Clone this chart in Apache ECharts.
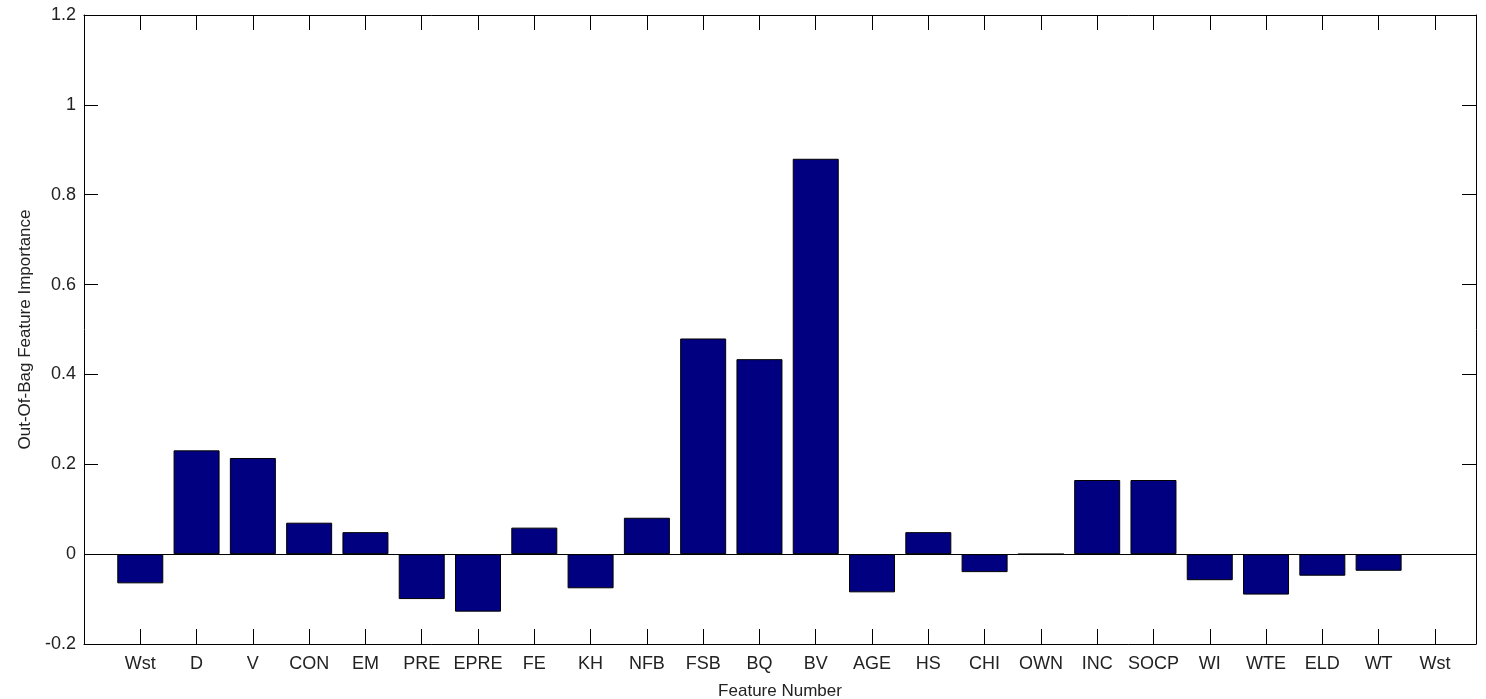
<!DOCTYPE html>
<html>
<head>
<meta charset="utf-8">
<script src="https://cdn.jsdelivr.net/npm/echarts@6/dist/echarts.min.js"></script>
<style>
  html, body { margin: 0; padding: 0; background: #fff; }
  #chart { width: 1486px; height: 699px; }
</style>
</head>
<body>
<div id="chart"></div>
<script>
// feature names, one per tick (1..24)
const features = ['Wst', 'D', 'V', 'CON', 'EM', 'PRE', 'EPRE', 'FE', 'KH', 'NFB', 'FSB', 'BQ',
  'BV', 'AGE', 'HS', 'CHI', 'OWN', 'INC', 'SOCP', 'WI', 'WTE', 'ELD', 'WT', 'Wst'];
// out-of-bag importance, last tick has no bar
const importance = [-0.065, 0.231, 0.214, 0.070, 0.049, -0.100, -0.128, 0.059, -0.076, 0.081,
  0.480, 0.434, 0.880, -0.085, 0.049, -0.040, 0, 0.165, 0.165, -0.058, -0.090, -0.048, -0.037, null];
const yTicks = { min: -0.2, max: 1.2, step: 0.2 };

const font = 'Liberation Sans, Arial, sans-serif';
const black = '#000';

const chart = echarts.init(document.getElementById('chart'));

const barData = [];
importance.forEach((v, i) => {
  if (v !== null) barData.push([i + 1, v]);
});

const xCommon = {
  type: 'value',
  min: 0,
  max: 24.73,
  interval: 1,
  splitLine: { show: false },
  axisLine: { onZero: false, lineStyle: { color: black, width: 1 } },
  axisTick: { inside: true, length: 15, lineStyle: { color: black } }
};
const yCommon = {
  type: 'value',
  min: yTicks.min,
  max: yTicks.max,
  interval: yTicks.step,
  splitLine: { show: false },
  axisLine: { show: true, onZero: false, lineStyle: { color: black, width: 1 } },
  axisTick: { show: true, inside: true, length: 14, lineStyle: { color: black } }
};

chart.setOption({
  animation: false,
  backgroundColor: '#fff',
  grid: { left: 84, right: 10, top: 15, bottom: 55, outerBoundsMode: 'none', containLabel: false },
  xAxis: [
    Object.assign({}, xCommon, {
      position: 'bottom',
      name: 'Feature Number',
      nameLocation: 'middle',
      nameGap: 39,
      nameTextStyle: { fontFamily: font, fontSize: 17, color: '#222' },
      axisLabel: {
        margin: 11,
        fontFamily: font,
        fontSize: 18,
        color: '#222',
        formatter: v => (Number.isInteger(v) && v >= 1 && v <= features.length) ? features[v - 1] : ''
      }
    }),
    Object.assign({}, xCommon, {
      position: 'top',
      axisLabel: { show: false }
    })
  ],
  yAxis: [
    Object.assign({}, yCommon, {
      position: 'left',
      name: 'Out-Of-Bag Feature Importance',
      nameLocation: 'middle',
      nameGap: 49,
      nameTextStyle: { fontFamily: font, fontSize: 17, color: '#222' },
      axisLabel: {
        margin: 8,
        fontFamily: font,
        fontSize: 18,
        color: '#222',
        formatter: v => String(Math.round(v * 10) / 10)
      }
    }),
    Object.assign({}, yCommon, {
      position: 'right',
      axisLabel: { show: false }
    })
  ],
  series: [
    {
      type: 'bar',
      data: barData,
      barWidth: 46,
      itemStyle: { color: '#000080', borderColor: black, borderWidth: 1 },
      markLine: {
        silent: true,
        symbol: 'none',
        label: { show: false },
        lineStyle: { color: black, width: 1, type: 'solid' },
        data: [{ yAxis: 0 }]
      }
    }
  ]
});
</script>
</body>
</html>
